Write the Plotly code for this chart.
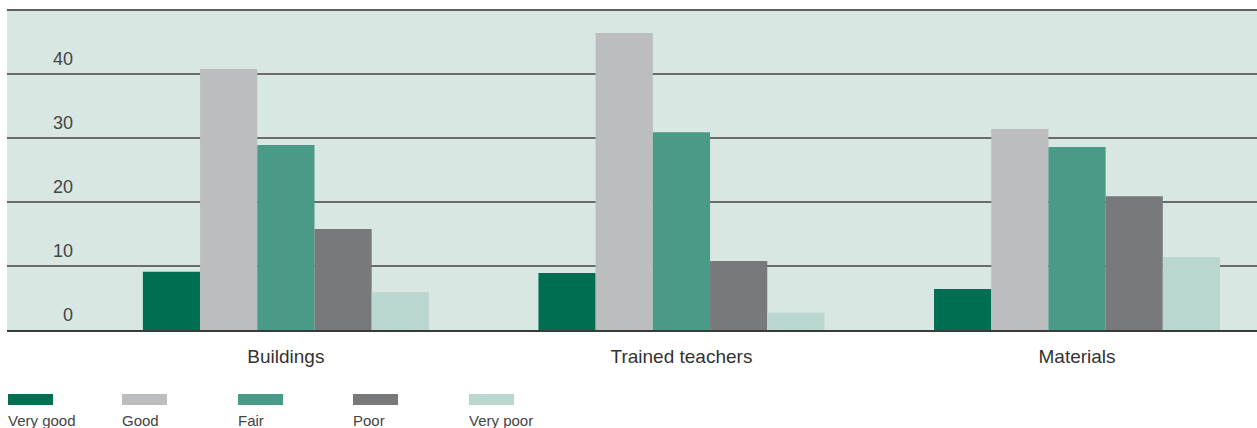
import plotly.graph_objects as go

categories = ["Buildings", "Trained teachers", "Materials"]
ratings = ["Very good", "Good", "Fair", "Poor", "Very poor"]
very_good = [9.1, 8.9, 6.4]
good = [40.8, 46.4, 31.4]
fair = [28.9, 30.9, 28.6]
poor = [15.8, 10.8, 20.9]
very_poor = [5.9, 2.7, 11.4]
y_ticks = [0, 10, 20, 30, 40]

series = [very_good, good, fair, poor, very_poor]
colors = ["#006e50", "#bcbdbf", "#4a9a88", "#78797b", "#bad7cf"]
FONT = "Liberation Sans, Arial, sans-serif"

fig = go.Figure()
for name, vals, col in zip(ratings, series, colors):
    fig.add_trace(go.Bar(
        x=categories, y=vals, name=name,
        marker=dict(color=col, line=dict(width=0)),
        showlegend=False,
    ))

# value labels sit just above their gridlines on the left side
for t in y_ticks:
    fig.add_annotation(
        x=0.0545, xref="paper", y=t, yref="y", yshift=15,
        text=str(t), showarrow=False, xanchor="right", yanchor="middle",
        font=dict(family=FONT, size=18, color="#444444"),
    )

# legend: swatch above each label
leg_x = [8, 122, 238, 353, 469]
for name, col, px in zip(ratings, colors, leg_x):
    x0 = (px - 7) / 1250
    x1 = (px + 45 - 7) / 1250
    fig.add_shape(type="rect", xref="paper", yref="paper",
                  x0=x0, x1=x1, y0=-0.2345, y1=-0.2, line=dict(width=0), fillcolor=col)
    fig.add_annotation(
        x=x0, xref="paper", y=-0.283, yref="paper", text=name, showarrow=False,
        xanchor="left", yanchor="middle", xshift=-2,
        font=dict(family=FONT, size=15, color="#444444"),
    )

# top border line
fig.add_shape(type="line", xref="paper", yref="paper", x0=0, x1=1, y0=1, y1=1,
              line=dict(color="#5e5e5e", width=2))

fig.update_layout(
    width=1257, height=428,
    margin=dict(l=7, r=0, t=10, b=98),
    paper_bgcolor="white",
    plot_bgcolor="#d8e7e2",
    barmode="group",
    bargap=0.277,
    bargroupgap=0,
    xaxis=dict(
        range=[-0.705, 2.455],
        showgrid=False,
        showline=True, linecolor="#3a3a3a", linewidth=2,
        ticks="", ticklen=0,
        ticklabelstandoff=8,
        tickfont=dict(family=FONT, size=19, color="#333333"),
    ),
    yaxis=dict(
        range=[0, 50],
        tickvals=y_ticks,
        showticklabels=False,
        showgrid=True, gridcolor="#6b6b6b", gridwidth=1.5,
        zeroline=False,
    ),
)

fig.write_html("out.html")
